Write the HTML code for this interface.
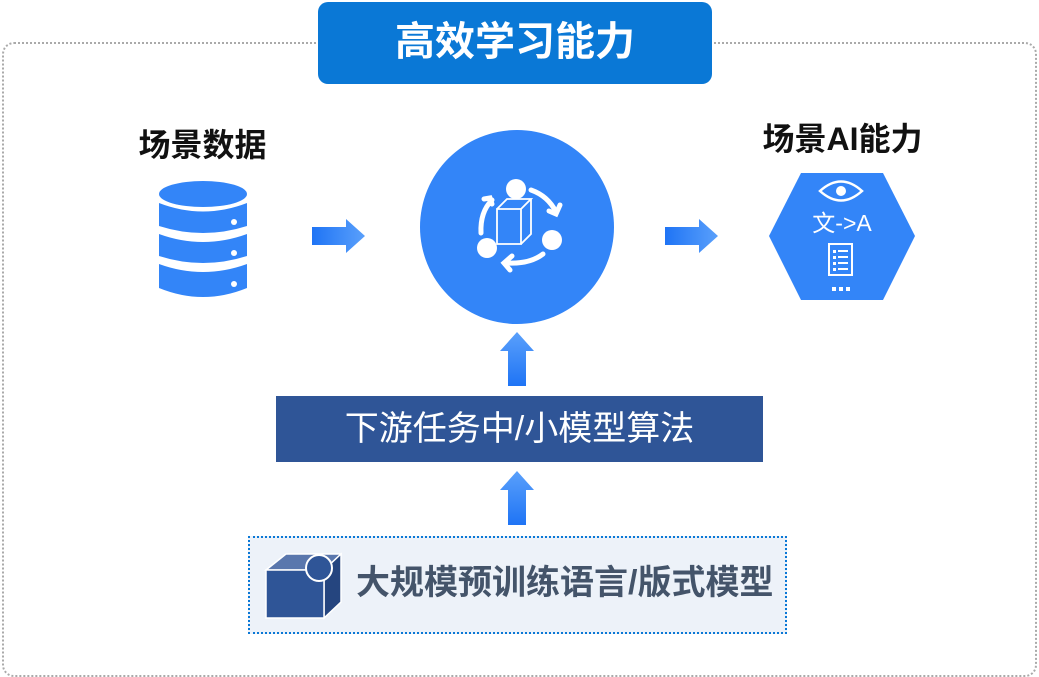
<!DOCTYPE html>
<html><head><meta charset="utf-8"><style>
body{margin:0;width:1039px;height:677px;background:#fff;position:relative;overflow:hidden;font-family:"Liberation Sans","Noto Sans CJK SC",sans-serif}
.a{position:absolute}
</style></head><body>
<div class="a" style="left:2px;top:42px;width:1031px;height:631px;border:2px dotted #aaa;border-radius:12px"></div>
<div class="a" style="left:318px;top:2px;width:394px;height:82px;background:#0a78d6;border-radius:10px;color:#fff;font-size:40px;font-weight:bold;text-align:center;line-height:80px">高效学习能力</div>
<div class="a" style="left:100px;top:120px;width:205px;text-align:center;font-size:32px;font-weight:bold;color:#111">场景数据</div>
<div class="a" style="left:740px;top:114px;width:205px;text-align:center;font-size:32px;font-weight:bold;color:#111">场景AI能力</div>
<svg class="a" style="left:0;top:0" width="1039" height="677">
<defs><linearGradient id="g" x1="0" y1="0" x2="1" y2="0"><stop offset="0" stop-color="#1f74f5"/><stop offset="1" stop-color="#5aa0fb"/></linearGradient>
<linearGradient id="gv" x1="0" y1="1" x2="0" y2="0"><stop offset="0" stop-color="#1f74f5"/><stop offset="1" stop-color="#5aa0fb"/></linearGradient></defs>
<g fill="#3385f8">
<ellipse cx="203" cy="194" rx="44" ry="13"/>
<path d="M159 203 Q203 220 247 203 V226 Q203 240 159 226Z"/>
<path d="M159 234 Q203 250 247 234 V256 Q203 270 159 256Z"/>
<path d="M159 264 Q203 280 247 264 V288 Q203 306 159 288Z"/>
</g>
<g fill="#fff"><circle cx="234" cy="222" r="3"/><circle cx="234" cy="253" r="3"/><circle cx="234" cy="284" r="3"/></g>
<path d="M312 227 H346 V219 L365 236 L346 253 V245 H312Z" fill="url(#g)"/>
<path d="M665 227 H699 V219 L718 236 L699 253 V245 H665Z" fill="url(#g)"/>
<path d="M508 386 V351 H500 L517 332 L534 351 H526 V386Z" fill="url(#gv)"/>
<path d="M508 525 V490 H500 L517 471 L534 490 H526 V525Z" fill="url(#gv)"/>
<circle cx="517" cy="227" r="97" fill="#3385f8"/>
<g fill="#fff"><circle cx="516" cy="189" r="10"/><circle cx="552" cy="240" r="10"/><circle cx="487" cy="248" r="10"/></g>
<g fill="none" stroke="#fff" stroke-width="5" stroke-linecap="round">
<path d="M531 190 Q548 196 556 212"/><path d="M549 211 L556 214 L560 205"/>
<path d="M543 254 Q530 264 508 263"/><path d="M512 256 L504 263 L510 270"/>
<path d="M481 233 Q480 212 492 200"/><path d="M484 199 L490 198 L492 204"/>
</g>
<g fill="none" stroke="#fff" stroke-width="1.8"><path d="M497 209 H521 V244 H497Z M497 209 L507 199 H531 L521 209 M531 199 V234 L521 244"/></g>
<polygon points="801,173 883,173 915,236 883,300 801,300 769,236" fill="#3385f8"/>
<path d="M820 191 Q841 172 862 191 Q841 210 820 191Z" fill="none" stroke="#fff" stroke-width="2.5"/>
<circle cx="841" cy="191" r="5" fill="#fff"/>
<text x="842" y="231" fill="#fff" font-size="23" text-anchor="middle" font-family="Liberation Sans,Noto Sans CJK SC,sans-serif">文->A</text>
<rect x="829" y="244" width="23" height="31" fill="none" stroke="#fff" stroke-width="2"/>
<g fill="#fff"><rect x="833" y="250" width="3" height="3"/><rect x="838" y="250" width="10" height="2"/><rect x="833" y="256" width="3" height="3"/><rect x="838" y="256" width="10" height="2"/><rect x="833" y="262" width="3" height="3"/><rect x="838" y="262" width="10" height="2"/><rect x="833" y="268" width="3" height="3"/><rect x="838" y="268" width="10" height="2"/>
<rect x="832" y="287" width="4" height="4"/><rect x="839" y="287" width="4" height="4"/><rect x="846" y="287" width="4" height="4"/></g>
</svg>
<div class="a" style="left:276px;top:396px;width:487px;height:66px;background:#2f5597;color:#fff;font-size:34px;text-align:center;line-height:66px">下游任务中/小模型算法</div>
<div class="a" style="left:248px;top:536px;width:536px;height:95px;background:#edf2f9;border:2px dotted #0a78d6;box-sizing:border-box;width:539px;height:98px"></div>
<svg class="a" style="left:262px;top:550px" width="80" height="70">
<polygon points="4,20 24,4 79,4 62,20" fill="#5a77ad" stroke="#fff" stroke-width="1.5"/>
<polygon points="62,20 79,4 79,52 62,68" fill="#25457f" stroke="#fff" stroke-width="1.5"/>
<rect x="4" y="20" width="58" height="48" fill="#2f5597" stroke="#fff" stroke-width="1.5"/>
<circle cx="57" cy="18" r="13" fill="#2f5597" stroke="#fff" stroke-width="2"/>
</svg>
<div class="a" style="left:356px;top:559px;font-size:34px;font-weight:bold;color:#44546a;line-height:48px;white-space:nowrap">大规模预训练语言/版式模型</div>
</body></html>
